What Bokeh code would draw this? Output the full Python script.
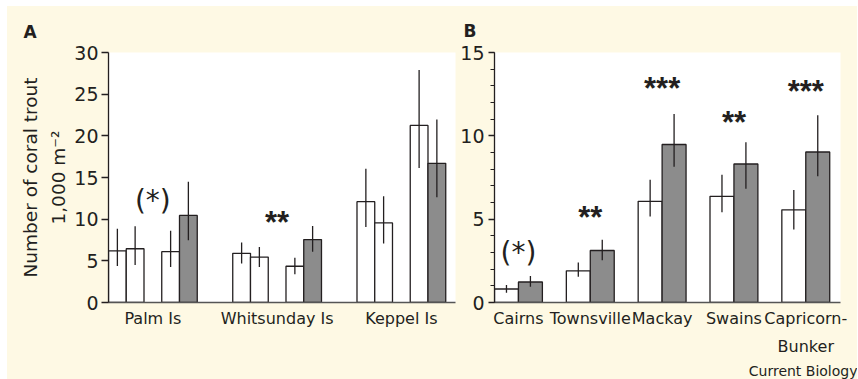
from bokeh.plotting import figure
from bokeh.layouts import row
from bokeh.models import Range1d, FixedTicker, Title, ColumnDataSource
from bokeh.core.properties import value
from bokeh.embed import file_html
from bokeh.resources import INLINE

# ---------------- data: panel A (inshore island groups) ----------------
a_sites = ["Palm Is", "Whitsunday Is", "Keppel Is"]
# four bars per site (three open bars, then the grey bar)
a_mean = [6.20, 6.45, 6.10, 10.45,
          5.90, 5.45, 4.35, 7.55,
          12.10, 9.55, 21.25, 16.70]
a_low = [4.37, 4.49, 4.25, 7.47,
         4.69, 4.25, 3.38, 6.08,
         9.06, 7.07, 16.15, 12.63]
a_high = [8.86, 9.14, 8.62, 14.50,
          7.19, 6.67, 5.36, 9.18,
          16.05, 12.75, 27.90, 21.97]
a_sig = ["(*)", "**", ""]
a_sig_y = [12.3, 9.55, 0.0]
a_yticks = [0, 5, 10, 15, 20, 25, 30]

# ---------------- data: panel B (offshore regions) ----------------
b_regions = ["Cairns", "Townsville", "Mackay", "Swains", "Capricorn-\nBunker"]
b_white = [0.81, 1.90, 6.07, 6.37, 5.56]
b_white_low = [0.58, 1.55, 5.16, 5.42, 4.38]
b_white_high = [1.05, 2.40, 7.36, 7.66, 6.75]
b_grey = [1.23, 3.12, 9.48, 8.31, 9.03]
b_grey_low = [0.95, 2.54, 8.15, 6.83, 7.58]
b_grey_high = [1.59, 3.77, 11.31, 9.62, 11.23]
b_sig = ["(*)", "**", "***", "**", "***"]
b_sig_y = [3.0, 5.12, 12.82, 10.82, 12.67]
b_yticks = [0, 5, 10, 15]

BEIGE = "#fef9e4"
GREY = "#8c8c8c"
INK = "#231f20"
FONT = "DejaVu Sans"
STAR_FONT = "Liberation Sans"


def base_fig(width, ymax, xmax, left, right):
    p = figure(width=width, height=373, output_backend="svg", toolbar_location=None,
               x_range=Range1d(0, xmax), y_range=Range1d(0, ymax),
               min_border_left=left, min_border_right=right,
               min_border_top=46, min_border_bottom=75)
    p.background_fill_color = "white"
    p.border_fill_color = BEIGE
    p.outline_line_color = None
    p.xgrid.visible = False
    p.ygrid.visible = False
    xa = p.xaxis[0]
    xa.major_tick_line_color = None
    xa.minor_tick_line_color = None
    xa.major_tick_out = 0
    xa.major_tick_in = 0
    xa.axis_line_color = "#555555"
    xa.axis_line_width = 1.5
    xa.major_label_text_font = FONT
    xa.major_label_text_font_size = "16px"
    xa.major_label_text_color = INK
    xa.major_label_standoff = 6
    ya = p.yaxis[0]
    ya.axis_line_color = INK
    ya.axis_line_width = 1.3
    ya.major_tick_line_color = INK
    ya.major_tick_line_width = 1.3
    ya.major_tick_in = 0
    ya.minor_tick_line_color = INK
    ya.minor_tick_line_width = 1.2
    ya.minor_tick_in = 0
    ya.major_label_text_font = FONT
    ya.major_label_text_font_size = "19px"
    ya.major_label_text_color = INK
    return p


def panel_title(p, text, offset, standoff):
    p.add_layout(Title(text=text, align="left", offset=offset, standoff=standoff,
                       text_font=FONT, text_font_size="17px", text_font_style="bold",
                       text_color=INK), "above")


def sig_marks(p, centres, labels, heights):
    paren = [i for i, s in enumerate(labels) if s.startswith("(")]
    stars = [i for i, s in enumerate(labels) if s and not s.startswith("(")]
    src_p = ColumnDataSource(dict(x=[centres[i] for i in paren],
                                  y=[heights[i] for i in paren],
                                  t=[labels[i] for i in paren]))
    src_s = ColumnDataSource(dict(x=[centres[i] for i in stars],
                                  y=[heights[i] for i in stars],
                                  t=[labels[i] for i in stars]))
    p.text(x="x", y="y", text="t", source=src_p, text_font=value(FONT),
           text_font_size="28px", text_align="center", text_baseline="alphabetic",
           text_color=INK)
    p.text(x="x", y="y", text="t", source=src_s, text_font=value(STAR_FONT),
           text_font_size="31px", text_font_style="bold", text_align="center",
           text_baseline="alphabetic", text_color=INK)


# ---------------- panel A ----------------
pa = base_fig(450, 30, 19.55, 101, 2)
offs_a = [0.5, 1.5, 3.5, 4.5]
a_x = [7 * g + o for g in range(len(a_sites)) for o in offs_a]
a_fill = [("white" if k < 3 else GREY) for g in range(len(a_sites)) for k in range(4)]
pa.vbar(x=a_x, top=a_mean, bottom=0, width=1, fill_color=a_fill,
        line_color=INK, line_width=1.3)
pa.segment(x0=a_x, y0=a_low, x1=a_x, y1=a_high, line_color=INK, line_width=1.3)
a_centres = [7 * g + 2.5 for g in range(len(a_sites))]
pa.xaxis[0].ticker = FixedTicker(ticks=a_centres)
pa.xaxis[0].major_label_overrides = {c: s for c, s in zip(a_centres, a_sites)}
pa.yaxis[0].ticker = FixedTicker(ticks=a_yticks)
pa.yaxis[0].major_tick_out = 7
pa.yaxis[0].major_label_standoff = 3
pa.yaxis[0].axis_label = "Number of coral trout\n1,000 m\u207b\u00b2"
pa.yaxis[0].axis_label_text_font = FONT
pa.yaxis[0].axis_label_text_font_size = "18.5px"
pa.yaxis[0].axis_label_text_font_style = "normal"
pa.yaxis[0].axis_label_text_color = INK
pa.yaxis[0].axis_label_text_line_height = 1.35
pa.yaxis[0].axis_label_standoff = 2
sig_marks(pa, a_centres, a_sig, a_sig_y)
panel_title(pa, "A", -85, 22)

# ---------------- panel B ----------------
pb = base_fig(400, 15, 14.45, 36, 17)
b_xw = [3 * g + 0.5 for g in range(len(b_regions))]
b_xg = [3 * g + 1.5 for g in range(len(b_regions))]
pb.vbar(x=b_xw, top=b_white, bottom=0, width=1, fill_color="white",
        line_color=INK, line_width=1.3)
pb.vbar(x=b_xg, top=b_grey, bottom=0, width=1, fill_color=GREY,
        line_color=INK, line_width=1.3)
pb.segment(x0=b_xw, y0=b_white_low, x1=b_xw, y1=b_white_high, line_color=INK, line_width=1.3)
pb.segment(x0=b_xg, y0=b_grey_low, x1=b_xg, y1=b_grey_high, line_color=INK, line_width=1.3)
b_centres = [3 * g + 1 for g in range(len(b_regions))]
pb.xaxis[0].ticker = FixedTicker(ticks=b_centres)
pb.xaxis[0].major_label_overrides = {c: s for c, s in zip(b_centres, b_regions)}
pb.xaxis[0].major_label_text_line_height = 1.5
pb.yaxis[0].ticker = FixedTicker(ticks=b_yticks, minor_ticks=list(range(0, 16)))
pb.yaxis[0].major_tick_out = 6
pb.yaxis[0].minor_tick_out = 4
pb.yaxis[0].major_label_standoff = 4
sig_marks(pb, b_centres, b_sig, b_sig_y)
panel_title(pb, "B", -31, 24)
pb.add_layout(Title(text="Current Biology", align="right", offset=-17, standoff=2,
                    text_font=FONT, text_font_size="14px", text_font_style="normal",
                    text_color=INK), "below")

layout = row(pa, pb, spacing=0, margin=(6, 0, 0, 7),
             styles={"background-color": BEIGE})
open("out.html", "w").write(file_html(layout, INLINE))
